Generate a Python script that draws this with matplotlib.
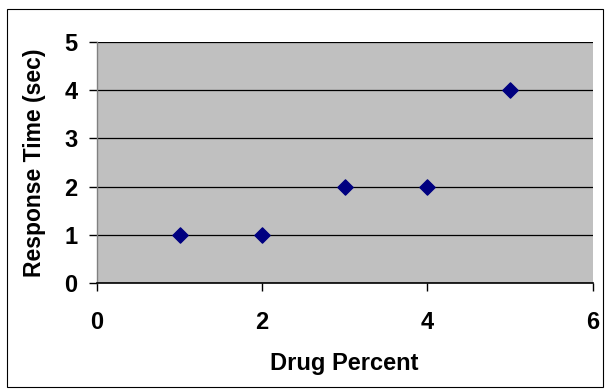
import matplotlib
matplotlib.use("Agg")
import matplotlib.pyplot as plt
from matplotlib.patches import Rectangle

drug_percent = [1, 2, 3, 4, 5]
response_time = [1, 1, 2, 2, 4]
x_ticks = [0, 2, 4, 6]
y_ticks = [0, 1, 2, 3, 4, 5]

plt.rcParams['font.family'] = ['Liberation Sans', 'DejaVu Sans']
plt.rcParams['font.weight'] = 'bold'
plt.rcParams['axes.labelweight'] = 'bold'

W, H = 609, 391
fig = plt.figure(figsize=(W / 100, H / 100), dpi=100)
fig.patch.set_facecolor('white')
fig.patches.append(Rectangle((7 / W, 1 - 387 / H), (603 - 7) / W, (387 - 9) / H,
                             transform=fig.transFigure, fill=False,
                             edgecolor='black', linewidth=0.8))

left, right, top, bottom = 97, 592.5, 42, 283
ax = fig.add_axes([left / W, 1 - bottom / H, (right - left) / W, (bottom - top) / H])
ax.set_facecolor('#C0C0C0')
ax.set_xlim(0, 6)
ax.set_ylim(0, 5)
ax.set_xticks(x_ticks)
ax.set_yticks(y_ticks)
ax.yaxis.grid(True, color='black', linewidth=0.9)
ax.set_axisbelow(True)
for s in ['top', 'right']:
    ax.spines[s].set_visible(False)
ax.spines['left'].set_color('#808080')
ax.spines['bottom'].set_color('black')
ax.spines['left'].set_linewidth(1.0)
ax.spines['bottom'].set_linewidth(1.2)
ax.tick_params(axis='both', direction='out', length=6, width=1, color='black',
               labelsize=17)
ax.tick_params(axis='x', pad=14)
ax.tick_params(axis='y', pad=8)

ax.scatter(drug_percent, response_time, marker='D', s=60, color='#000080',
           zorder=3, clip_on=False)

ax.set_xlabel('Drug Percent', fontsize=17, fontweight='bold', labelpad=13)
ax.set_ylabel('Response Time (sec)', fontsize=16.5, fontweight='bold', labelpad=13)

fig.savefig('out.png', dpi=100)
